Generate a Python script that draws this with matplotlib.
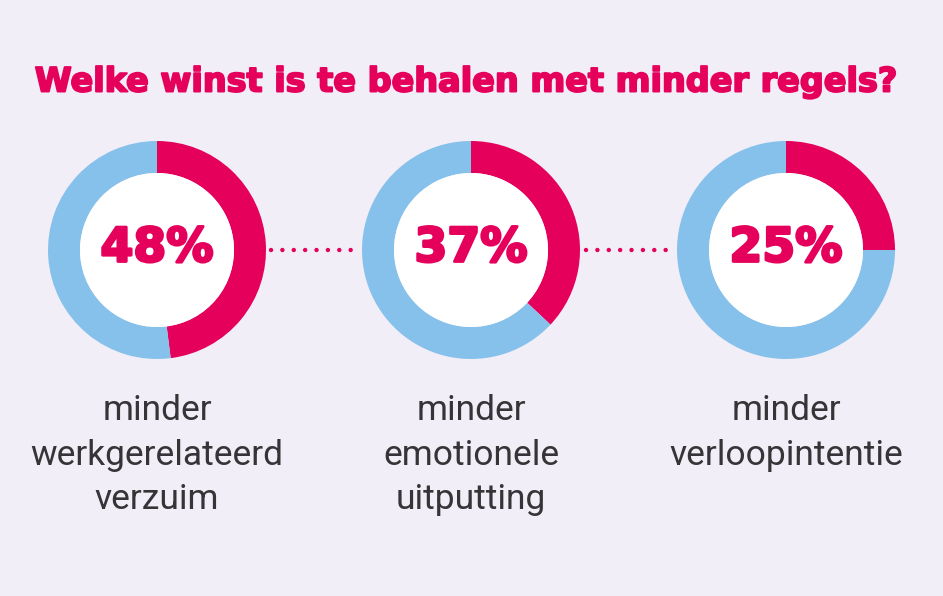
import matplotlib
matplotlib.use("Agg")
import matplotlib.pyplot as plt
import matplotlib.patheffects as pe
from matplotlib.patches import Circle

# data
TITLE = "Welke winst is te behalen met minder regels?"
percentages = [48, 37, 25]
labels = ["minder\nwerkgerelateerd\nverzuim",
          "minder\nemotionele\nuitputting",
          "minder\nverloopintentie"]

PINK = "#E5005B"
BLUE = "#86C1EB"
BG = "#F1EEF7"
GREY = "#363436"

W, H = 943, 596
centers_x = [157, 471, 786]
cy = H - 250
R_OUT, R_IN = 109, 77

fig = plt.figure(figsize=(W / 100, H / 100), dpi=100, facecolor=BG)
ax = fig.add_axes([0, 0, 1, 1])
ax.set_facecolor(BG)

heavy = [pe.withStroke(linewidth=2, foreground=PINK)]

for cx, pct, lab in zip(centers_x, percentages, labels):
    ax.pie([pct, 100 - pct], colors=[PINK, BLUE], center=(cx, cy), radius=R_OUT,
           startangle=90, counterclock=False,
           wedgeprops=dict(width=R_OUT - R_IN, linewidth=0))
    ax.add_patch(Circle((cx, cy), R_IN, facecolor="white", edgecolor="none", zorder=3))
    ax.text(cx, cy + 1, f"{pct}%", ha="center", va="center", color=PINK,
            fontsize=34, fontweight="bold", family="DejaVu Sans", zorder=4,
            path_effects=heavy)
    ax.text(cx, H - 394, lab, ha="center", va="top", color=GREY,
            fontsize=25.5, family="Roboto", linespacing=1.45, zorder=4)

# dotted connectors between the donuts
for x0, x1 in [(271, 357), (586, 672)]:
    ax.plot([x0, x1], [cy, cy], color=PINK, lw=3.2, ls=(0, (0.01, 2.55)),
            dash_capstyle="round")

fig.text(467 / W, 1 - 82 / H, TITLE, ha="center", va="center", color=PINK,
         fontsize=24.1, fontweight="bold", family="DejaVu Sans",
         path_effects=[pe.withStroke(linewidth=1.4, foreground=PINK)])

ax.set_xlim(0, W)
ax.set_ylim(0, H)
ax.set_aspect("equal")
ax.axis("off")

fig.savefig("out.png", dpi=100, facecolor=BG)
